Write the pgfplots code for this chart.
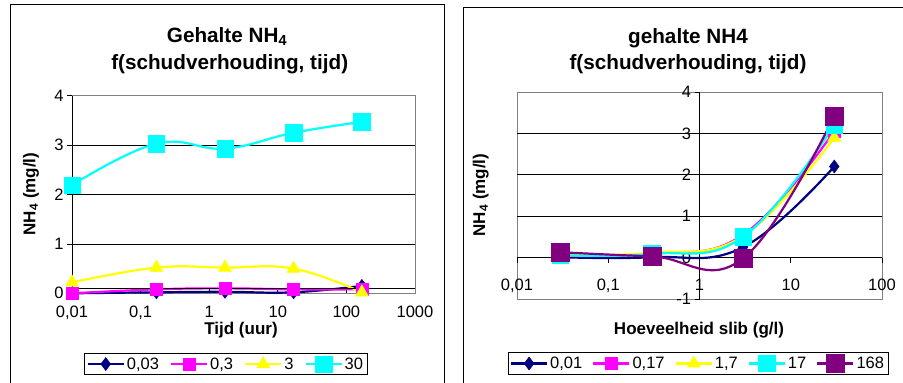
\documentclass[border=0pt]{standalone}
\usepackage{fontspec}
\setmainfont{Liberation Sans}
\usepackage{pgfplots}
\pgfplotsset{compat=1.18}
\definecolor{navy}{RGB}{0,0,128}
\definecolor{mag}{RGB}{255,0,255}
\definecolor{yel}{RGB}{255,255,0}
\definecolor{cya}{RGB}{0,255,255}
\definecolor{pur}{RGB}{128,0,128}
\pgfplotsset{
  excel/.style={
    scale only axis,
    clip=false,
    xminorticks=false,
    /pgf/number format/assume math mode=true,
    tick label style={font=\fontsize{16.5}{18}\selectfont},
    ymajorgrids,
    major grid style={black, line width=0.8pt},
    every tick/.style={black, line width=0.8pt},
    major tick length=5pt,
    legend columns=-1,
    legend style={font=\fontsize{16.5}{18}\selectfont, draw=black, line width=1pt,
      anchor=center, inner sep=2pt},
    legend image code/.code={\draw[mark repeat=2,mark phase=2] plot coordinates {(0pt,0pt)(18pt,0pt)(36pt,0pt)};},
  },
  s1/.style={navy, line width=2.2pt, smooth, tension=0.7, mark=diamond*, mark size=6.5pt, mark options={solid, fill=navy, draw=navy, line width=0.5pt}},
  s2/.style={mag, line width=2.2pt, smooth, tension=0.7, mark=square*, mark size=6pt, mark options={solid, fill=mag, draw=mag, line width=0.5pt}},
  s3/.style={yel, line width=2.2pt, smooth, tension=0.7, mark=triangle*, mark size=7.5pt, mark options={solid, fill=yel, draw=yel, line width=0.5pt}},
  s4/.style={cya, line width=2.2pt, smooth, tension=0.7, mark=square*, mark size=8.2pt, mark options={solid, fill=cya, draw=cya, line width=0.5pt}},
  s5/.style={pur, line width=2.2pt, smooth, tension=0.7, mark=square*, mark size=9pt, mark options={solid, fill=pur, draw=pur, line width=0.5pt}},
}
\begin{document}
\begin{tikzpicture}
\useasboundingbox (0,0) rectangle (903pt,383pt);
% chart frames
\draw[black, line width=1pt] (10pt,-20pt) rectangle (444pt,378.3pt);
\draw[black, line width=1pt] (463.3pt,-20pt) rectangle (920pt,375.7pt);

% ---------------- left chart ----------------
\begin{axis}[excel, xmode=log,
  at={(72pt,89.7pt)}, anchor=south west, width=343pt, height=197.6pt,
  xmin=0.01, xmax=1000, ymin=0, ymax=4,
  xtick={0.01,0.1,1,10,100,1000}, xticklabels={{0,01},{0,1},1,10,100,1000},
  ytick={0,1,2,3,4}, yticklabels={0,1,2,3,4},
  xtick pos=bottom, ytick pos=left,
  xtick align=inside, ytick align=outside,
  axis line style={gray, line width=0.9pt},
  xticklabel style={yshift=-9pt},
  legend style={at={(0.4485,-0.358)}, /tikz/every even column/.append style={column sep=9pt}},
]
\addplot[s1] coordinates {(0.01,0.0) (0.17,0.02) (1.7,0.03) (17,0.02) (168,0.15)};
\addplot[s2] coordinates {(0.01,0.0) (0.17,0.08) (1.7,0.1) (17,0.08) (168,0.08)};
\addplot[s3] coordinates {(0.01,0.22) (0.17,0.52) (1.7,0.52) (17,0.5) (168,0.02)};
\addplot[s4] coordinates {(0.01,2.19) (0.17,3.03) (1.7,2.93) (17,3.25) (168,3.47)};
\legend{{0,03},{0,3},3,30}
\draw[black, line width=0.9pt] (rel axis cs:0,0) -- (rel axis cs:0,1);
\draw[black, line width=0.8pt] (axis cs:0.01,0.1) -- (axis cs:1000,0.1);
\end{axis}

% ---------------- right chart ----------------
\begin{axis}[excel, xmode=log,
  at={(517pt,84pt)}, anchor=south west, width=365pt, height=207pt,
  xmin=0.01, xmax=100, ymin=-1, ymax=4,
  axis background/.style={draw=gray, line width=0.9pt},
  axis x line*=middle, axis y line*=middle,
  hide obscured x ticks=false, hide obscured y ticks=false,
  xtick={0.01,0.1,1,10,100}, xticklabels={{0,01},{0,1},1,10,100},
  ytick={0,1,2,3}, yticklabels={0,1,2,3},
  extra y ticks={-1,4}, extra y tick labels={{\mbox{-}1},4},
  extra y tick style={grid=none},
  tick align=outside,
  axis line style={black, line width=0.9pt, -},
  xticklabel style={yshift=-13pt},
  legend style={at={(0.496,-0.3116)}, /tikz/every even column/.append style={column sep=8pt}},
]
\addplot[s1] coordinates {(0.03,0.01) (0.3,0.01) (3,0.25) (30,2.2)};
\addplot[s2] coordinates {(0.03,0.05) (0.3,0.1) (3,0.55) (30,3.05)};
\addplot[s3] coordinates {(0.03,0.06) (0.3,0.12) (3,0.52) (30,2.9)};
\addplot[s4] coordinates {(0.03,0.06) (0.3,0.09) (3,0.5) (30,3.2)};
\addplot[s5] coordinates {(0.03,0.13) (0.3,0.03) (3,-0.02) (30,3.42)};
\legend{{0,01},{0,17},{1,7},17,168}
\end{axis}

% titles and labels
\node[anchor=base, font=\fontsize{20.7}{24}\selectfont\bfseries] at (227pt,340.9pt) {Gehalte NH\textsubscript{4}};
\node[anchor=base, font=\fontsize{20.7}{24}\selectfont\bfseries] at (229.7pt,313pt) {f(schudverhouding, tijd)};
\node[anchor=base, font=\fontsize{20.7}{24}\selectfont\bfseries] at (688pt,339.7pt) {gehalte NH4};
\node[anchor=base, font=\fontsize{20.7}{24}\selectfont\bfseries] at (688pt,313pt) {f(schudverhouding, tijd)};
\node[anchor=base, font=\fontsize{17}{20}\selectfont\bfseries] at (241pt,48pt) {Tijd (uur)};
\node[anchor=base, font=\fontsize{17}{20}\selectfont\bfseries] at (699pt,48pt) {Hoeveelheid slib (g/l)};
\node[rotate=90, font=\fontsize{17}{20}\selectfont\bfseries] at (31pt,189pt) {NH\textsubscript{4} (mg/l)};
\node[rotate=90, font=\fontsize{17}{20}\selectfont\bfseries] at (480.8pt,188pt) {NH\textsubscript{4} (mg/l)};
\end{tikzpicture}
\end{document}
